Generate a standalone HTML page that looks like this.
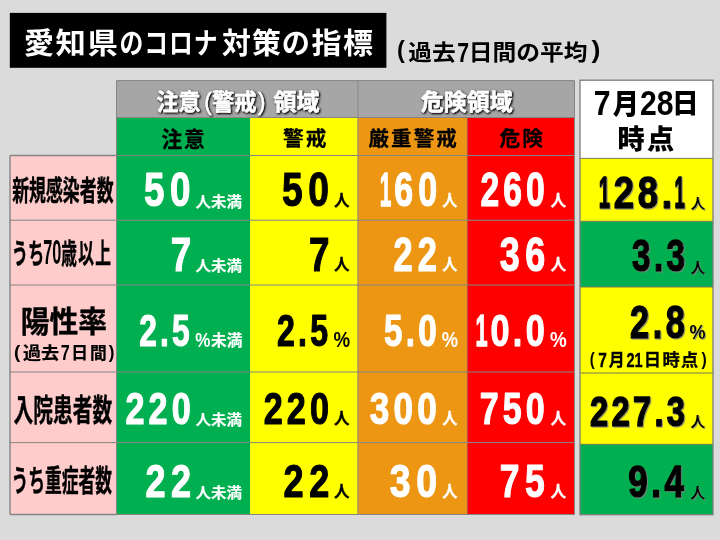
<!DOCTYPE html>
<html lang="ja"><head><meta charset="utf-8"><title>愛知県のコロナ対策の指標</title>
<style>
html,body{margin:0;padding:0;background:#dbdbdb;}
svg{display:block}
text{font-family:"Liberation Sans", "Noto Sans CJK JP", sans-serif;white-space:pre}
</style></head><body>
<svg width="720" height="540" viewBox="0 0 720 540">
<defs>
<filter id="glow" x="-5%" y="-30%" width="110%" height="160%">
<feGaussianBlur in="SourceAlpha" stdDeviation="1.1" result="b"/>
<feOffset in="b" dx="0.5" dy="0.7" result="o"/>
<feComponentTransfer in="o" result="o2"><feFuncA type="linear" slope="1.8"/></feComponentTransfer>
<feFlood flood-color="#2a2a2a"/><feComposite in2="o2" operator="in" result="s"/>
<feMerge><feMergeNode in="s"/><feMergeNode in="SourceGraphic"/></feMerge>
</filter>
<filter id="ds" x="-5%" y="-5%" width="110%" height="110%">
<feOffset in="SourceAlpha" dx="1.3" dy="1.3" result="o"/>
<feFlood flood-color="#808080" flood-opacity="0.75"/><feComposite in2="o" operator="in" result="s"/>
<feMerge><feMergeNode in="s"/><feMergeNode in="SourceGraphic"/></feMerge>
</filter>
</defs>
<rect x="0.00" y="0.00" width="720.00" height="540.00" fill="#dbdbdb"/>
<rect x="9.80" y="12.90" width="376.60" height="54.90" fill="#000"/>
<rect x="116.50" y="80.60" width="241.40" height="36.90" fill="#a6a6a6"/>
<rect x="357.90" y="80.60" width="216.60" height="36.90" fill="#a6a6a6"/>
<rect x="116.50" y="117.50" width="133.70" height="38.00" fill="#00b050"/>
<rect x="250.20" y="117.50" width="107.70" height="38.00" fill="#ffff00"/>
<rect x="357.90" y="117.50" width="109.30" height="38.00" fill="#ed9614"/>
<rect x="467.20" y="117.50" width="107.30" height="38.00" fill="#ff0000"/>
<rect x="10.00" y="155.50" width="106.50" height="64.70" fill="#ffcccc"/>
<rect x="116.50" y="155.50" width="133.70" height="64.70" fill="#00b050"/>
<rect x="250.20" y="155.50" width="107.70" height="64.70" fill="#ffff00"/>
<rect x="357.90" y="155.50" width="109.30" height="64.70" fill="#ed9614"/>
<rect x="467.20" y="155.50" width="107.30" height="64.70" fill="#ff0000"/>
<rect x="10.00" y="220.20" width="106.50" height="64.80" fill="#ffcccc"/>
<rect x="116.50" y="220.20" width="133.70" height="64.80" fill="#00b050"/>
<rect x="250.20" y="220.20" width="107.70" height="64.80" fill="#ffff00"/>
<rect x="357.90" y="220.20" width="109.30" height="64.80" fill="#ed9614"/>
<rect x="467.20" y="220.20" width="107.30" height="64.80" fill="#ff0000"/>
<rect x="10.00" y="285.00" width="106.50" height="87.00" fill="#ffcccc"/>
<rect x="116.50" y="285.00" width="133.70" height="87.00" fill="#00b050"/>
<rect x="250.20" y="285.00" width="107.70" height="87.00" fill="#ffff00"/>
<rect x="357.90" y="285.00" width="109.30" height="87.00" fill="#ed9614"/>
<rect x="467.20" y="285.00" width="107.30" height="87.00" fill="#ff0000"/>
<rect x="10.00" y="372.00" width="106.50" height="70.60" fill="#ffcccc"/>
<rect x="116.50" y="372.00" width="133.70" height="70.60" fill="#00b050"/>
<rect x="250.20" y="372.00" width="107.70" height="70.60" fill="#ffff00"/>
<rect x="357.90" y="372.00" width="109.30" height="70.60" fill="#ed9614"/>
<rect x="467.20" y="372.00" width="107.30" height="70.60" fill="#ff0000"/>
<rect x="10.00" y="442.60" width="106.50" height="71.90" fill="#ffcccc"/>
<rect x="116.50" y="442.60" width="133.70" height="71.90" fill="#00b050"/>
<rect x="250.20" y="442.60" width="107.70" height="71.90" fill="#ffff00"/>
<rect x="357.90" y="442.60" width="109.30" height="71.90" fill="#ed9614"/>
<rect x="467.20" y="442.60" width="107.30" height="71.90" fill="#ff0000"/>
<line x1="10.00" y1="155.50" x2="574.50" y2="155.50" stroke="#858585" stroke-width="1"/>
<line x1="10.00" y1="220.20" x2="574.50" y2="220.20" stroke="#858585" stroke-width="1"/>
<line x1="10.00" y1="285.00" x2="574.50" y2="285.00" stroke="#858585" stroke-width="1"/>
<line x1="10.00" y1="372.00" x2="574.50" y2="372.00" stroke="#858585" stroke-width="1"/>
<line x1="10.00" y1="442.60" x2="574.50" y2="442.60" stroke="#858585" stroke-width="1"/>
<line x1="10.00" y1="514.50" x2="574.50" y2="514.50" stroke="#858585" stroke-width="1"/>
<line x1="116.50" y1="80.60" x2="574.50" y2="80.60" stroke="#858585" stroke-width="1"/>
<line x1="116.50" y1="117.50" x2="574.50" y2="117.50" stroke="#858585" stroke-width="1"/>
<line x1="10.00" y1="155.50" x2="10.00" y2="514.50" stroke="#858585" stroke-width="1.4"/>
<line x1="10.00" y1="514.50" x2="116.50" y2="514.50" stroke="#858585" stroke-width="1.6"/>
<line x1="10.00" y1="155.50" x2="116.50" y2="155.50" stroke="#858585" stroke-width="1.4"/>
<line x1="116.50" y1="80.60" x2="116.50" y2="514.50" stroke="#858585" stroke-width="1"/>
<line x1="574.50" y1="80.60" x2="574.50" y2="514.50" stroke="#858585" stroke-width="1"/>
<line x1="357.90" y1="80.60" x2="357.90" y2="514.50" stroke="#858585" stroke-width="1"/>
<line x1="467.20" y1="117.50" x2="467.20" y2="514.50" stroke="rgba(128,128,128,0.5)" stroke-width="1"/>
<rect x="580.00" y="80.20" width="133.00" height="78.20" fill="#ffffff"/>
<rect x="580.00" y="158.40" width="133.00" height="62.90" fill="#ffff00"/>
<rect x="580.00" y="221.30" width="133.00" height="65.70" fill="#00b050"/>
<rect x="580.00" y="287.00" width="133.00" height="86.00" fill="#ffff00"/>
<rect x="580.00" y="373.00" width="133.00" height="71.30" fill="#ffff00"/>
<rect x="580.00" y="444.30" width="133.00" height="70.40" fill="#00b050"/>
<line x1="580.00" y1="158.40" x2="713.00" y2="158.40" stroke="#7a7a50" stroke-width="1"/>
<line x1="580.00" y1="221.30" x2="713.00" y2="221.30" stroke="#7a7a50" stroke-width="1"/>
<line x1="580.00" y1="287.00" x2="713.00" y2="287.00" stroke="#7a7a50" stroke-width="1"/>
<line x1="580.00" y1="373.00" x2="713.00" y2="373.00" stroke="#7a7a50" stroke-width="1"/>
<line x1="580.00" y1="444.30" x2="713.00" y2="444.30" stroke="#7a7a50" stroke-width="1"/>
<rect x="580.00" y="80.20" width="133.00" height="434.50" fill="none" stroke="#7d7d7d" stroke-width="1.3"/>
<g><text transform="translate(23.68 53.78) scale(1.0403 1)" font-size="29.16" font-weight="700" letter-spacing="1.46" fill="#fff">愛知県</text><text transform="translate(119.57 53.78) scale(0.8166 1)" font-size="29.16" font-weight="700" letter-spacing="1.17" fill="#fff">のコロナ</text><text transform="translate(221.92 53.78) scale(0.9910 1)" font-size="29.16" font-weight="700" letter-spacing="1.17" fill="#fff">対策</text><text transform="translate(281.81 53.78) scale(0.9658 1)" font-size="29.16" font-weight="700" letter-spacing="0.00" fill="#fff">の</text><text transform="translate(311.40 53.78) scale(1.0289 1)" font-size="29.16" font-weight="700" letter-spacing="1.46" fill="#fff">指標</text></g>
<g><text transform="translate(397.02 58.40) scale(0.9892 1)" font-size="23.83" font-weight="700" letter-spacing="0.00" fill="#000">(</text><text transform="translate(408.29 60.11) scale(1.0838 1)" font-size="21.89" font-weight="700" letter-spacing="0.00" fill="#000">過去</text><text transform="translate(457.35 61.78) scale(0.7535 1)" font-size="28.24" font-weight="700" letter-spacing="0.00" fill="#000">7</text><text transform="translate(468.73 60.11) scale(1.0866 1)" font-size="21.89" font-weight="700" letter-spacing="0.00" fill="#000">日間の平均</text><text transform="translate(591.50 58.40) scale(1.1240 1)" font-size="23.83" font-weight="700" letter-spacing="0.00" fill="#000">)</text></g>
<g filter="url(#glow)">
<g><text transform="translate(156.54 109.96) scale(0.9543 1)" font-size="23.01" font-weight="700" letter-spacing="0.00" fill="#fff" stroke="#fff" stroke-width="0.4" vector-effect="non-scaling-stroke" stroke-linejoin="round">注意</text><text transform="translate(204.16 109.96) scale(0.9694 1)" font-size="23.01" font-weight="400" letter-spacing="0.00" fill="#fff" stroke="#fff" stroke-width="0.4" vector-effect="non-scaling-stroke" stroke-linejoin="round">(</text><text transform="translate(212.03 109.96) scale(0.9711 1)" font-size="23.01" font-weight="700" letter-spacing="0.00" fill="#fff" stroke="#fff" stroke-width="0.4" vector-effect="non-scaling-stroke" stroke-linejoin="round">警戒</text><text transform="translate(257.98 109.96) scale(0.9694 1)" font-size="23.01" font-weight="400" letter-spacing="0.00" fill="#fff" stroke="#fff" stroke-width="0.4" vector-effect="non-scaling-stroke" stroke-linejoin="round">)</text><text transform="translate(273.47 109.96) scale(1.0059 1)" font-size="23.01" font-weight="700" letter-spacing="0.00" fill="#fff" stroke="#fff" stroke-width="0.4" vector-effect="non-scaling-stroke" stroke-linejoin="round">領域</text></g>
<text transform="translate(420.71 109.57) scale(1.0323 1)" font-size="22.29" font-weight="700" letter-spacing="0.00" fill="#fff" stroke="#fff" stroke-width="0.4" vector-effect="non-scaling-stroke" stroke-linejoin="round">危険領域</text>
</g>
<text transform="translate(161.43 146.56) scale(0.9742 1)" font-size="21.18" font-weight="700" letter-spacing="2.12" fill="#000" stroke="#000" stroke-width="0.3" vector-effect="non-scaling-stroke" stroke-linejoin="round">注意</text>
<text transform="translate(282.93 146.18) scale(0.9952 1)" font-size="20.74" font-weight="700" letter-spacing="2.07" fill="#000" stroke="#000" stroke-width="0.3" vector-effect="non-scaling-stroke" stroke-linejoin="round">警戒</text>
<text transform="translate(368.54 146.20) scale(0.9998 1)" font-size="20.52" font-weight="700" letter-spacing="2.05" fill="#000" stroke="#000" stroke-width="0.3" vector-effect="non-scaling-stroke" stroke-linejoin="round">厳重警戒</text>
<text transform="translate(499.53 146.20) scale(1.0079 1)" font-size="20.52" font-weight="700" letter-spacing="2.05" fill="#000" stroke="#000" stroke-width="0.3" vector-effect="non-scaling-stroke" stroke-linejoin="round">危険</text>
<g><text transform="translate(593.79 115.14) scale(0.8817 1)" font-size="34.26" font-weight="700" letter-spacing="0.00" fill="#000">7</text><text transform="translate(612.78 114.14) scale(0.9151 1)" font-size="28.57" font-weight="900" letter-spacing="0.00" fill="#000">月</text><text transform="translate(639.89 114.95) scale(0.8714 1)" font-size="34.65" font-weight="700" letter-spacing="0.00" fill="#000">28</text><text transform="translate(672.07 113.25) scale(0.9807 1)" font-size="27.19" font-weight="900" letter-spacing="0.00" fill="#000">日</text></g>
<text transform="translate(617.57 149.42) scale(0.9775 1)" font-size="27.81" font-weight="900" letter-spacing="2.22" fill="#000">時点</text>
<text transform="translate(12.14 200.55) scale(0.5915 1)" font-size="28.58" font-weight="700" letter-spacing="0.00" fill="#000" stroke="#000" stroke-width="0.35" vector-effect="non-scaling-stroke" stroke-linejoin="round">新規感染者数</text>
<g><text transform="translate(144.10 206.22) scale(0.7709 1)" font-size="47.75" font-weight="700" letter-spacing="7.16" fill="#fff" stroke="#fff" stroke-width="1.0" vector-effect="non-scaling-stroke" stroke-linejoin="round">50</text><text transform="translate(195.61 206.87) scale(1.0270 1)" font-size="15.05" font-weight="700" letter-spacing="0.00" fill="#fff" stroke="#fff" stroke-width="0.15" vector-effect="non-scaling-stroke" stroke-linejoin="round">人未満</text></g>
<g><text transform="translate(281.88 206.22) scale(0.7797 1)" font-size="47.75" font-weight="700" letter-spacing="7.16" fill="#000" stroke="#000" stroke-width="1.0" vector-effect="non-scaling-stroke" stroke-linejoin="round">50</text><text transform="translate(333.98 206.17) scale(0.9710 1)" font-size="16.04" font-weight="700" letter-spacing="0.00" fill="#000" stroke="#000" stroke-width="0.3" vector-effect="non-scaling-stroke" stroke-linejoin="round">人</text></g>
<g><text transform="translate(379.75 206.22) scale(0.4367 1)" font-size="47.75" font-weight="700" letter-spacing="7.16" fill="#fff" stroke="#fff" stroke-width="1.0" vector-effect="non-scaling-stroke" stroke-linejoin="round">1</text><text transform="translate(394.14 206.22) scale(0.7135 1)" font-size="47.75" font-weight="700" letter-spacing="7.16" fill="#fff" stroke="#fff" stroke-width="1.0" vector-effect="non-scaling-stroke" stroke-linejoin="round">60</text><text transform="translate(442.29 206.17) scale(0.9513 1)" font-size="16.04" font-weight="700" letter-spacing="0.00" fill="#fff" stroke="#fff" stroke-width="0.3" vector-effect="non-scaling-stroke" stroke-linejoin="round">人</text></g>
<g><text transform="translate(480.49 206.22) scale(0.7057 1)" font-size="47.75" font-weight="700" letter-spacing="5.73" fill="#fff" stroke="#fff" stroke-width="1.0" vector-effect="non-scaling-stroke" stroke-linejoin="round">260</text><text transform="translate(550.48 206.17) scale(0.9776 1)" font-size="16.04" font-weight="700" letter-spacing="0.00" fill="#fff" stroke="#fff" stroke-width="0.3" vector-effect="non-scaling-stroke" stroke-linejoin="round">人</text></g>
<g filter="url(#ds)"><text transform="translate(598.64 208.10) scale(0.4471 1)" font-size="45.21" font-weight="700" letter-spacing="6.78" fill="#000" stroke="#000" stroke-width="1.3" vector-effect="non-scaling-stroke" stroke-linejoin="round">1</text><text transform="translate(613.75 208.10) scale(0.8090 1)" font-size="45.21" font-weight="700" letter-spacing="4.52" fill="#000" stroke="#000" stroke-width="1.3" vector-effect="non-scaling-stroke" stroke-linejoin="round">28.</text><text transform="translate(674.54 208.10) scale(0.4094 1)" font-size="45.21" font-weight="700" letter-spacing="6.78" fill="#000" stroke="#000" stroke-width="1.3" vector-effect="non-scaling-stroke" stroke-linejoin="round">1</text><text transform="translate(690.76 209.36) scale(1.0168 1)" font-size="14.29" font-weight="700" letter-spacing="0.00" fill="#000">人</text></g>
<g><text transform="translate(11.84 263.83) scale(0.5700 1)" font-size="28.51" font-weight="700" letter-spacing="0.00" fill="#000" stroke="#000" stroke-width="0.35" vector-effect="non-scaling-stroke" stroke-linejoin="round">うち</text><text transform="translate(43.25 264.46) scale(0.4746 1)" font-size="34.37" font-weight="700" letter-spacing="0.00" fill="#000">70</text><text transform="translate(61.20 263.69) scale(0.5584 1)" font-size="28.14" font-weight="700" letter-spacing="2.25" fill="#000" stroke="#000" stroke-width="0.35" vector-effect="non-scaling-stroke" stroke-linejoin="round">歳以上</text></g>
<g><text transform="translate(170.73 271.12) scale(0.7732 1)" font-size="47.61" font-weight="700" letter-spacing="7.14" fill="#fff" stroke="#fff" stroke-width="1.0" vector-effect="non-scaling-stroke" stroke-linejoin="round">7</text><text transform="translate(195.61 270.90) scale(1.0492 1)" font-size="14.73" font-weight="700" letter-spacing="0.00" fill="#fff" stroke="#fff" stroke-width="0.15" vector-effect="non-scaling-stroke" stroke-linejoin="round">人未満</text></g>
<g><text transform="translate(309.03 271.12) scale(0.7732 1)" font-size="47.61" font-weight="700" letter-spacing="7.14" fill="#000" stroke="#000" stroke-width="1.0" vector-effect="non-scaling-stroke" stroke-linejoin="round">7</text><text transform="translate(333.98 270.17) scale(0.9710 1)" font-size="16.04" font-weight="700" letter-spacing="0.00" fill="#000" stroke="#000" stroke-width="0.3" vector-effect="non-scaling-stroke" stroke-linejoin="round">人</text></g>
<g><text transform="translate(393.47 271.12) scale(0.7237 1)" font-size="47.61" font-weight="700" letter-spacing="7.14" fill="#fff" stroke="#fff" stroke-width="1.0" vector-effect="non-scaling-stroke" stroke-linejoin="round">22</text><text transform="translate(442.29 270.17) scale(0.9513 1)" font-size="16.04" font-weight="700" letter-spacing="0.00" fill="#fff" stroke="#fff" stroke-width="0.3" vector-effect="non-scaling-stroke" stroke-linejoin="round">人</text></g>
<g><text transform="translate(499.78 271.12) scale(0.7562 1)" font-size="47.61" font-weight="700" letter-spacing="7.14" fill="#fff" stroke="#fff" stroke-width="1.0" vector-effect="non-scaling-stroke" stroke-linejoin="round">36</text><text transform="translate(550.48 270.17) scale(0.9776 1)" font-size="16.04" font-weight="700" letter-spacing="0.00" fill="#fff" stroke="#fff" stroke-width="0.3" vector-effect="non-scaling-stroke" stroke-linejoin="round">人</text></g>
<g filter="url(#ds)"><text transform="translate(631.98 271.41) scale(0.7615 1)" font-size="43.94" font-weight="700" letter-spacing="4.39" fill="#000" stroke="#000" stroke-width="1.3" vector-effect="non-scaling-stroke" stroke-linejoin="round">3.3</text><text transform="translate(690.76 273.31) scale(0.9792 1)" font-size="14.84" font-weight="700" letter-spacing="0.00" fill="#000">人</text></g>
<text transform="translate(20.69 332.24) scale(0.9733 1)" font-size="29.57" font-weight="700" letter-spacing="0.00" fill="#000" stroke="#000" stroke-width="0.4" vector-effect="non-scaling-stroke" stroke-linejoin="round">陽性率</text>
<g><text transform="translate(13.95 357.58) scale(0.9885 1)" font-size="19.15" font-weight="700" letter-spacing="0.00" fill="#000">(</text><text transform="translate(22.88 358.61) scale(1.0823 1)" font-size="16.68" font-weight="700" letter-spacing="0.00" fill="#000" stroke="#000" stroke-width="0.25" vector-effect="non-scaling-stroke" stroke-linejoin="round">過去</text><text transform="translate(60.85 360.01) scale(0.7583 1)" font-size="21.32" font-weight="700" letter-spacing="0.00" fill="#000">7</text><text transform="translate(71.31 358.61) scale(1.0047 1)" font-size="16.68" font-weight="700" letter-spacing="2.00" fill="#000" stroke="#000" stroke-width="0.25" vector-effect="non-scaling-stroke" stroke-linejoin="round">日間</text><text transform="translate(108.80 357.58) scale(0.8952 1)" font-size="19.15" font-weight="700" letter-spacing="0.00" fill="#000">)</text></g>
<g><text transform="translate(139.25 345.56) scale(0.7275 1)" font-size="43.66" font-weight="700" letter-spacing="4.37" fill="#fff" stroke="#fff" stroke-width="1.0" vector-effect="non-scaling-stroke" stroke-linejoin="round">2.5</text><text transform="translate(195.29 347.10) scale(0.8434 1)" font-size="20.29" font-weight="700" letter-spacing="0.00" fill="#fff">%</text><text transform="translate(211.01 346.04) scale(1.0242 1)" font-size="15.37" font-weight="700" letter-spacing="0.00" fill="#fff" stroke="#fff" stroke-width="0.15" vector-effect="non-scaling-stroke" stroke-linejoin="round">未満</text></g>
<g><text transform="translate(277.04 345.56) scale(0.7350 1)" font-size="43.66" font-weight="700" letter-spacing="4.37" fill="#000" stroke="#000" stroke-width="1.0" vector-effect="non-scaling-stroke" stroke-linejoin="round">2.5</text><text transform="translate(333.54 346.69) scale(0.8715 1)" font-size="21.43" font-weight="700" letter-spacing="0.00" fill="#000">%</text></g>
<g><text transform="translate(384.00 345.56) scale(0.7609 1)" font-size="43.66" font-weight="700" letter-spacing="4.37" fill="#fff" stroke="#fff" stroke-width="1.0" vector-effect="non-scaling-stroke" stroke-linejoin="round">5.0</text><text transform="translate(441.85 346.69) scale(0.8546 1)" font-size="21.43" font-weight="700" letter-spacing="0.00" fill="#fff">%</text></g>
<g><text transform="translate(475.44 345.56) scale(0.4995 1)" font-size="43.66" font-weight="700" letter-spacing="6.55" fill="#fff" stroke="#fff" stroke-width="1.0" vector-effect="non-scaling-stroke" stroke-linejoin="round">1</text><text transform="translate(490.38 345.56) scale(0.7834 1)" font-size="43.66" font-weight="700" letter-spacing="4.37" fill="#fff" stroke="#fff" stroke-width="1.0" vector-effect="non-scaling-stroke" stroke-linejoin="round">0.0</text><text transform="translate(550.04 346.69) scale(0.8771 1)" font-size="21.43" font-weight="700" letter-spacing="0.00" fill="#fff">%</text></g>
<g filter="url(#ds)"><text transform="translate(630.12 337.89) scale(0.7479 1)" font-size="46.06" font-weight="700" letter-spacing="4.61" fill="#000" stroke="#000" stroke-width="1.3" vector-effect="non-scaling-stroke" stroke-linejoin="round">2.8</text><text transform="translate(689.46 339.30) scale(0.9036 1)" font-size="20.00" font-weight="700" letter-spacing="0.00" fill="#000">%</text></g>
<g><text transform="translate(589.85 365.20) scale(0.7877 1)" font-size="19.04" font-weight="700" letter-spacing="0.00" fill="#000">(</text><text transform="translate(598.13 367.15) scale(0.7598 1)" font-size="20.44" font-weight="700" letter-spacing="0.00" fill="#000" stroke="#000" stroke-width="0.3" vector-effect="non-scaling-stroke" stroke-linejoin="round">7</text><text transform="translate(608.73 366.28) scale(0.9088 1)" font-size="17.44" font-weight="700" letter-spacing="0.00" fill="#000" stroke="#000" stroke-width="0.3" vector-effect="non-scaling-stroke" stroke-linejoin="round">月</text><text transform="translate(626.41 366.95) scale(0.7338 1)" font-size="19.86" font-weight="700" letter-spacing="0.00" fill="#000" stroke="#000" stroke-width="0.3" vector-effect="non-scaling-stroke" stroke-linejoin="round">21</text><text transform="translate(643.76 366.28) scale(0.9902 1)" font-size="17.44" font-weight="700" letter-spacing="1.40" fill="#000" stroke="#000" stroke-width="0.3" vector-effect="non-scaling-stroke" stroke-linejoin="round">日時点</text><text transform="translate(701.40 365.20) scale(0.8252 1)" font-size="19.04" font-weight="700" letter-spacing="0.00" fill="#000">)</text></g>
<text transform="translate(13.48 421.08) scale(0.6479 1)" font-size="30.48" font-weight="700" letter-spacing="0.00" fill="#000" stroke="#000" stroke-width="0.35" vector-effect="non-scaling-stroke" stroke-linejoin="round">入院患者数</text>
<g><text transform="translate(125.47 424.25) scale(0.7669 1)" font-size="44.65" font-weight="700" letter-spacing="5.36" fill="#fff" stroke="#fff" stroke-width="1.0" vector-effect="non-scaling-stroke" stroke-linejoin="round">220</text><text transform="translate(195.61 424.92) scale(1.0646 1)" font-size="14.52" font-weight="700" letter-spacing="0.00" fill="#fff" stroke="#fff" stroke-width="0.15" vector-effect="non-scaling-stroke" stroke-linejoin="round">人未満</text></g>
<g><text transform="translate(263.67 424.25) scale(0.7669 1)" font-size="44.65" font-weight="700" letter-spacing="5.36" fill="#000" stroke="#000" stroke-width="1.0" vector-effect="non-scaling-stroke" stroke-linejoin="round">220</text><text transform="translate(333.98 424.17) scale(0.9710 1)" font-size="16.04" font-weight="700" letter-spacing="0.00" fill="#000" stroke="#000" stroke-width="0.3" vector-effect="non-scaling-stroke" stroke-linejoin="round">人</text></g>
<g><text transform="translate(369.80 424.25) scale(0.7869 1)" font-size="44.65" font-weight="700" letter-spacing="5.36" fill="#fff" stroke="#fff" stroke-width="1.0" vector-effect="non-scaling-stroke" stroke-linejoin="round">300</text><text transform="translate(442.29 424.17) scale(0.9513 1)" font-size="16.04" font-weight="700" letter-spacing="0.00" fill="#fff" stroke="#fff" stroke-width="0.3" vector-effect="non-scaling-stroke" stroke-linejoin="round">人</text></g>
<g><text transform="translate(479.84 424.25) scale(0.7625 1)" font-size="44.65" font-weight="700" letter-spacing="5.36" fill="#fff" stroke="#fff" stroke-width="1.0" vector-effect="non-scaling-stroke" stroke-linejoin="round">750</text><text transform="translate(550.48 424.17) scale(0.9776 1)" font-size="16.04" font-weight="700" letter-spacing="0.00" fill="#fff" stroke="#fff" stroke-width="0.3" vector-effect="non-scaling-stroke" stroke-linejoin="round">人</text></g>
<g filter="url(#ds)"><text transform="translate(589.97 425.92) scale(0.7581 1)" font-size="43.24" font-weight="700" letter-spacing="4.32" fill="#000" stroke="#000" stroke-width="1.3" vector-effect="non-scaling-stroke" stroke-linejoin="round">227.3</text><text transform="translate(690.56 426.62) scale(1.0008 1)" font-size="14.73" font-weight="700" letter-spacing="0.00" fill="#000">人</text></g>
<text transform="translate(11.56 490.80) scale(0.5742 1)" font-size="29.20" font-weight="700" letter-spacing="0.00" fill="#000" stroke="#000" stroke-width="0.35" vector-effect="non-scaling-stroke" stroke-linejoin="round">うち重症者数</text>
<g><text transform="translate(145.42 496.54) scale(0.7894 1)" font-size="45.77" font-weight="700" letter-spacing="6.87" fill="#fff" stroke="#fff" stroke-width="1.0" vector-effect="non-scaling-stroke" stroke-linejoin="round">22</text><text transform="translate(195.61 497.60) scale(1.0492 1)" font-size="14.73" font-weight="700" letter-spacing="0.00" fill="#fff" stroke="#fff" stroke-width="0.15" vector-effect="non-scaling-stroke" stroke-linejoin="round">人未満</text></g>
<g><text transform="translate(283.62 496.54) scale(0.7894 1)" font-size="45.77" font-weight="700" letter-spacing="6.87" fill="#000" stroke="#000" stroke-width="1.0" vector-effect="non-scaling-stroke" stroke-linejoin="round">22</text><text transform="translate(333.98 496.87) scale(0.9710 1)" font-size="16.04" font-weight="700" letter-spacing="0.00" fill="#000" stroke="#000" stroke-width="0.3" vector-effect="non-scaling-stroke" stroke-linejoin="round">人</text></g>
<g><text transform="translate(389.75 496.54) scale(0.8192 1)" font-size="45.77" font-weight="700" letter-spacing="6.87" fill="#fff" stroke="#fff" stroke-width="1.0" vector-effect="non-scaling-stroke" stroke-linejoin="round">30</text><text transform="translate(442.29 496.87) scale(0.9513 1)" font-size="16.04" font-weight="700" letter-spacing="0.00" fill="#fff" stroke="#fff" stroke-width="0.3" vector-effect="non-scaling-stroke" stroke-linejoin="round">人</text></g>
<g><text transform="translate(499.78 496.54) scale(0.7765 1)" font-size="45.77" font-weight="700" letter-spacing="6.87" fill="#fff" stroke="#fff" stroke-width="1.0" vector-effect="non-scaling-stroke" stroke-linejoin="round">75</text><text transform="translate(550.48 496.87) scale(0.9776 1)" font-size="16.04" font-weight="700" letter-spacing="0.00" fill="#fff" stroke="#fff" stroke-width="0.3" vector-effect="non-scaling-stroke" stroke-linejoin="round">人</text></g>
<g filter="url(#ds)"><text transform="translate(628.25 497.21) scale(0.7987 1)" font-size="43.94" font-weight="700" letter-spacing="4.39" fill="#000" stroke="#000" stroke-width="1.3" vector-effect="non-scaling-stroke" stroke-linejoin="round">9.4</text><text transform="translate(690.56 497.80) scale(0.9789 1)" font-size="15.05" font-weight="700" letter-spacing="0.00" fill="#000">人</text></g>
</svg>
</body></html>
